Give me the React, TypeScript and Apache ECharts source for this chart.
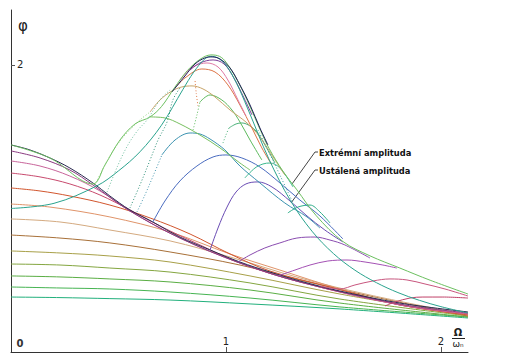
import React, { useEffect, useRef } from "react";
import * as echarts from "echarts";

// ---- axis ticks ----
const xTickValues = [1, 2];
const yTickValues = [2];

// ---- lower family (max amplitude within a short time window) ----
const lowerCurve1 = [[0,1.443],[0.088,1.408],[0.181,1.352],[0.274,1.282],[0.381,1.178],[0.46,1.087],[0.553,0.99],[0.66,0.906],[0.786,0.801],[0.926,0.711],[1.065,0.627],[1.205,0.557],[1.344,0.495],[1.53,0.425],[1.809,0.341],[2.126,0.279]];
const lowerCurve2 = [[0,1.401],[0.135,1.352],[0.274,1.268],[0.381,1.164],[0.553,0.983],[0.786,0.794],[1.065,0.62],[1.344,0.488],[1.809,0.334],[2.126,0.272]];
const lowerCurve3 = [[0,1.331],[0.135,1.296],[0.274,1.226],[0.414,1.122],[0.553,0.983],[0.786,0.794],[1.065,0.62],[1.344,0.488],[1.809,0.328],[2.126,0.265]];
const lowerCurve4 = [[0,1.247],[0.135,1.22],[0.274,1.171],[0.414,1.094],[0.553,0.99],[0.693,0.878],[0.879,0.746],[1.065,0.62],[1.344,0.488],[1.809,0.328],[2.126,0.265]];
const lowerCurve5 = [[0,1.143],[0.135,1.122],[0.274,1.087],[0.46,1.024],[0.647,0.934],[0.833,0.822],[1.019,0.683],[1.205,0.564],[1.484,0.453],[1.809,0.328],[2.126,0.258]];
const lowerCurve6 = [[0,1.031],[0.181,1.01],[0.46,0.941],[0.74,0.836],[1.019,0.683],[1.251,0.571],[1.53,0.439],[1.809,0.328],[2.126,0.258]];
const lowerCurve7 = [[0,0.927],[0.228,0.906],[0.46,0.85],[0.74,0.774],[1.019,0.662],[1.344,0.516],[1.67,0.397],[2.126,0.258]];
const lowerCurve8 = [[0,0.815],[0.228,0.794],[0.46,0.76],[0.74,0.697],[1.065,0.606],[1.344,0.502],[1.67,0.39],[2.126,0.251]];
const lowerCurve9 = [[0,0.704],[0.228,0.69],[0.46,0.669],[0.74,0.627],[1.112,0.53],[1.53,0.404],[2.126,0.251]];
const lowerCurve10 = [[0,0.613],[0.228,0.606],[0.46,0.585],[0.74,0.557],[1.112,0.481],[1.53,0.369],[2.126,0.251]];
const lowerCurve11 = [[0,0.53],[0.228,0.523],[0.46,0.509],[0.74,0.488],[1.112,0.432],[1.53,0.341],[2.126,0.244]];
const lowerCurve12 = [[0,0.453],[0.228,0.446],[0.46,0.439],[0.74,0.418],[1.112,0.376],[1.53,0.314],[2.126,0.244]];
const lowerCurve13 = [[0,0.383],[0.228,0.379],[0.46,0.372],[0.74,0.362],[1.112,0.335],[1.53,0.3],[2.126,0.237]];

// ---- steady and extreme amplitude ----
const steadyAmplitude = [[0,1.0],[0.2,1.036],[0.4,1.158],[0.5,1.262],[0.6,1.395],[0.7,1.58],[0.8,1.83],[0.85,1.95],[0.9,2.04],[0.93,2.06],[0.96,2.05],[1.0,2.0],[1.05,1.87],[1.1,1.7],[1.2,1.344],[1.3,1.055],[1.4,0.842],[1.5,0.686],[1.6,0.57],[1.7,0.483],[1.8,0.414],[1.9,0.36],[2.0,0.316],[2.126,0.272]];
const extremeAmplitude = [[0,1.443],[0.181,1.352],[0.381,1.171],[0.437,1.303],[0.507,1.477],[0.577,1.589],[0.647,1.638],[0.70,1.71],[0.76,1.84],[0.82,1.96],[0.88,2.04],[0.93,2.07],[0.97,2.06],[1.0,2.02],[1.05,1.9],[1.1,1.75],[1.15,1.58],[1.2,1.42],[1.265,1.26],[1.33,1.13],[1.42,0.95],[1.544,0.77],[1.67,0.67],[1.809,0.585],[1.95,0.5],[2.126,0.404]];

// ---- arcs (solid) ----
const humpGreen = [[0.647,1.638],[0.716,1.631],[0.786,1.589],[0.879,1.512],[0.972,1.422],[1.065,1.317],[1.112,1.268]];
const arcDark = [[0.749,1.812],[0.809,1.923],[0.856,2.007],[0.902,2.049],[0.935,2.056],[0.972,2.042],[1.019,1.979],[1.065,1.861],[1.112,1.721],[1.158,1.561],[1.195,1.443]];
const arcPurple = [[0.833,1.965],[0.879,2.014],[0.94,2.035],[0.991,2.007],[1.037,1.909],[1.084,1.77],[1.121,1.652]];
const arcPink = [[0.786,1.895],[0.847,1.986],[0.912,2.014],[0.963,1.986],[1.009,1.895],[1.056,1.756],[1.093,1.645]];
const arcOrange = [[0.763,1.84],[0.809,1.909],[0.888,1.972],[0.949,1.951],[1.009,1.861],[1.065,1.721],[1.121,1.561],[1.167,1.422],[1.214,1.303]];
const arcTan = [[0.647,1.672],[0.693,1.756],[0.749,1.819],[0.795,1.847],[0.842,1.854],[0.893,1.833],[0.949,1.777],[1.019,1.686],[1.098,1.596],[1.158,1.498],[1.219,1.359],[1.274,1.233]];
const arcGreen1 = [[0.879,1.742],[0.926,1.791],[0.981,1.756],[1.028,1.686],[1.065,1.603],[1.112,1.477],[1.167,1.338]];
const arcGreen2 = [[1.014,1.561],[1.047,1.589],[1.074,1.596],[1.112,1.575],[1.144,1.533],[1.181,1.443],[1.228,1.317]];
const arcTeal = [[0.702,1.373],[0.763,1.477],[0.833,1.526],[0.879,1.519],[0.926,1.484],[0.995,1.408],[1.065,1.296],[1.158,1.178],[1.274,1.038],[1.377,0.941],[1.437,0.864]];
const arcBlue = [[0.66,0.906],[0.716,1.052],[0.786,1.192],[0.865,1.296],[0.94,1.359],[1.0,1.373],[1.074,1.352],[1.158,1.289],[1.251,1.178],[1.344,1.059],[1.437,0.948],[1.544,0.788]];
const arcViolet1 = [[0.926,0.711],[0.963,0.864],[1.005,1.01],[1.047,1.115],[1.093,1.171],[1.149,1.185],[1.214,1.15],[1.298,1.052],[1.377,0.948],[1.46,0.85],[1.544,0.767]];
const arcViolet2 = [[1.056,0.627],[1.112,0.676],[1.181,0.725],[1.251,0.76],[1.33,0.794],[1.414,0.801],[1.484,0.78],[1.553,0.746],[1.67,0.655]];
const arcMagenta = [[1.242,0.53],[1.321,0.571],[1.391,0.606],[1.474,0.634],[1.563,0.641],[1.647,0.627],[1.73,0.606],[1.795,0.585]];
const arcRose = [[1.437,0.46],[1.53,0.439],[1.6,0.467],[1.684,0.495],[1.763,0.509],[1.842,0.502],[1.926,0.474],[2.019,0.439],[2.126,0.39]];
const arcRed = [[1.74,0.321],[1.786,0.348],[1.856,0.376],[1.916,0.383],[2.009,0.383],[2.126,0.376]];
const arcTealGreen1 = [[1.088,1.213],[1.135,1.282],[1.172,1.31],[1.205,1.317],[1.251,1.282],[1.312,1.15]];
const arcTealGreen2 = [[1.288,0.969],[1.335,1.01],[1.391,1.024],[1.437,0.976],[1.484,0.899]];

// ---- steep (dotted) jumps ----
const jumpA = [[0.391,1.164],[0.437,1.303],[0.484,1.422],[0.53,1.512],[0.6,1.617],[0.647,1.672]];
const jumpB = [[0.447,1.115],[0.498,1.303],[0.544,1.443],[0.591,1.547],[0.633,1.617],[0.693,1.756],[0.74,1.826]];
const jumpC = [[0.553,1.003],[0.6,1.164],[0.647,1.338],[0.684,1.477],[0.726,1.603],[0.753,1.756],[0.786,1.84]];
const jumpD = [[0.586,0.976],[0.623,1.094],[0.665,1.24],[0.702,1.373]];
const jumpE = [[0.87,1.714],[0.862,1.8],[0.856,1.895]];
const jumpF = [[0.847,1.547],[0.865,1.652],[0.879,1.742]];
const jumpG = [[0.986,1.456],[1.0,1.512],[1.014,1.561]];
const jumpH = [[1.149,1.547],[1.195,1.408],[1.251,1.233],[1.312,1.038]];

const solidCurves = [
  { data: lowerCurve13, color: "#22b07c" },
  { data: lowerCurve12, color: "#46b452" },
  { data: lowerCurve11, color: "#5aae44" },
  { data: lowerCurve10, color: "#84a640" },
  { data: lowerCurve9, color: "#a8a048" },
  { data: lowerCurve8, color: "#a87038" },
  { data: lowerCurve7, color: "#d4aa80" },
  { data: lowerCurve6, color: "#e0946a" },
  { data: lowerCurve5, color: "#d2562e" },
  { data: lowerCurve4, color: "#c84a6e" },
  { data: lowerCurve3, color: "#c8649a" },
  { data: lowerCurve2, color: "#8a3a80" },
  { data: lowerCurve1, color: "#2a2a50" },
  { data: arcRed, color: "#c04068" },
  { data: arcRose, color: "#c8567e" },
  { data: arcMagenta, color: "#a451b4" },
  { data: arcViolet2, color: "#8a4cb0" },
  { data: arcViolet1, color: "#6a4cb4" },
  { data: arcBlue, color: "#4a6cc0" },
  { data: arcTeal, color: "#3a92b0" },
  { data: arcTealGreen2, color: "#2eae8a" },
  { data: arcTealGreen1, color: "#3ab88e" },
  { data: humpGreen, color: "#78c060" },
  { data: arcGreen2, color: "#4cb27a" },
  { data: arcGreen1, color: "#5cba5c" },
  { data: arcTan, color: "#c8a468" },
  { data: arcOrange, color: "#de7446" },
  { data: arcPink, color: "#e07aa6" },
  { data: arcPurple, color: "#7d3c98" },
  { data: steadyAmplitude, color: "#2aa38e" },
  { data: extremeAmplitude, color: "#6cc060" },
  { data: arcDark, color: "#1e1e5a" },
];

const dottedCurves = [
  { data: jumpA, color: "#8ccf78" },
  { data: jumpB, color: "#70c0a0" },
  { data: jumpC, color: "#2e9078" },
  { data: jumpD, color: "#4898b0" },
  { data: jumpE, color: "#e08050" },
  { data: jumpF, color: "#5cba5c" },
  { data: jumpG, color: "#4cb27a" },
  { data: jumpH, color: "#3aa0a0" },
];

const labelFont = "'DejaVu Sans', Verdana, sans-serif";

export default function App() {
  const ref = useRef<HTMLDivElement>(null);
  useEffect(() => {
    if (!ref.current) return;
    const chart = echarts.init(ref.current, undefined, { renderer: "svg" });
    const series: any[] = [];
    solidCurves.forEach((c) =>
      series.push({
        type: "line",
        data: c.data,
        showSymbol: false,
        smooth: 0.35,
        lineStyle: { color: c.color, width: 1 },
        silent: true,
      })
    );
    dottedCurves.forEach((c) =>
      series.push({
        type: "line",
        data: c.data,
        showSymbol: false,
        smooth: 0.35,
        lineStyle: { color: c.color, width: 1, type: [1, 2] },
        silent: true,
      })
    );
    chart.setOption({
      animation: false,
      backgroundColor: "#ffffff",
      grid: { left: 11, right: 42, top: 10, bottom: 10, containLabel: false },
      xAxis: {
        type: "value",
        min: 0,
        max: 2.126,
        splitLine: { show: false },
        axisLine: { show: true, lineStyle: { color: "#333", width: 1 } },
        axisTick: { show: true, inside: true, length: 5, customValues: xTickValues, lineStyle: { color: "#555" } },
        axisLabel: { show: true, inside: true, margin: 6, customValues: xTickValues, color: "#222", fontSize: 10, fontFamily: labelFont },
      },
      yAxis: {
        type: "value",
        min: 0,
        max: 2.383,
        splitLine: { show: false },
        axisLine: { show: true, lineStyle: { color: "#333", width: 1 } },
        axisTick: { show: true, inside: true, length: 4, customValues: yTickValues, lineStyle: { color: "#555" } },
        axisLabel: { show: true, inside: true, margin: 6, customValues: yTickValues, color: "#222", fontSize: 10, fontFamily: labelFont },
      },
      series,
      graphic: [
        { type: "text", x: 20, y: 343, style: { text: "0", align: "center", verticalAlign: "middle", font: `bold 10px ${labelFont}`, fill: "#333" } },
        { type: "text", x: 23, y: 26, style: { text: "φ", align: "center", verticalAlign: "middle", font: `15px ${labelFont}`, fill: "#222" } },
        { type: "text", x: 319, y: 153, style: { text: "Extrémní amplituda", align: "left", verticalAlign: "middle", font: `bold 8.3px ${labelFont}`, fill: "#111" } },
        { type: "text", x: 319, y: 171, style: { text: "Ustálená amplituda", align: "left", verticalAlign: "middle", font: `bold 8.3px ${labelFont}`, fill: "#111" } },
        { type: "polyline", shape: { points: [[318, 152], [315, 152], [292, 184]] }, style: { stroke: "#444", lineWidth: 1, fill: "none" } },
        { type: "polyline", shape: { points: [[318, 170], [315, 170], [291, 203]] }, style: { stroke: "#444", lineWidth: 1, fill: "none" } },
        { type: "text", x: 458, y: 332, style: { text: "Ω", align: "center", verticalAlign: "middle", font: `bold 10px ${labelFont}`, fill: "#222" } },
        { type: "line", shape: { x1: 452, y1: 338.5, x2: 465, y2: 338.5 }, style: { stroke: "#222", lineWidth: 1 } },
        { type: "text", x: 458, y: 344, style: { text: "ωₙ", align: "center", verticalAlign: "middle", font: `9px ${labelFont}`, fill: "#222" } },
      ],
    });
    return () => chart.dispose();
  }, []);
  return <div ref={ref} style={{ position: "absolute", left: 0, top: 0, width: 510, height: 362 }} />;
}
